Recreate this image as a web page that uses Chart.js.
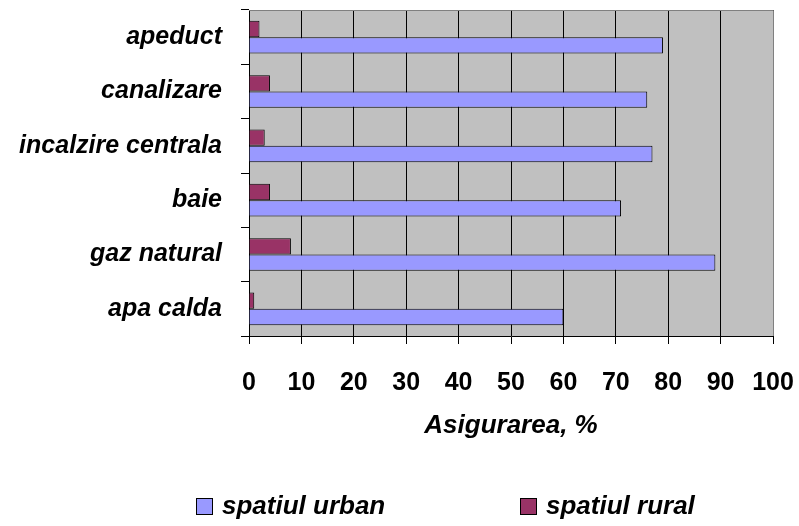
<!DOCTYPE html>
<html>
<head>
<meta charset="utf-8">
<script src="https://cdn.jsdelivr.net/npm/chart.js@4/dist/chart.umd.min.js"></script>
<style>
  body { margin: 0; background: #fff; }
  #wrap { position: relative; width: 799px; height: 526px; }
  #legend { position: absolute; left: 0; top: 490px; width: 799px; height: 32px;
    font: italic bold 26px "Liberation Sans", Arial, sans-serif; color: #000; }
  .item { position: absolute; top: 0; white-space: nowrap; }
  .box { display: inline-block; width: 17px; height: 17px; border: 1px solid #000;
    box-sizing: border-box; margin-right: 9px; vertical-align: -1px; }
</style>
</head>
<body>
<div id="wrap">
  <canvas id="chart" width="799" height="526"></canvas>
  <div id="legend"></div>
</div>
<script>
const categories = ["apeduct", "canalizare", "incalzire centrala", "baie", "gaz natural", "apa calda"];
const urban = [79, 76, 77, 71, 89, 60];
const rural = [2, 4, 3, 4, 8, 1];
const seriesNames = ["spatiul urban", "spatiul rural"];
const colors = ["#9999FF", "#993366"];
const xTicks = [0, 10, 20, 30, 40, 50, 60, 70, 80, 90, 100];

const family = '"Liberation Sans", Arial, sans-serif';

// gray plot background + top/right frame
const plotArea = {
  id: "plotArea",
  beforeDraw(chart) {
    const { ctx, chartArea: a } = chart;
    ctx.save();
    ctx.fillStyle = "#C0C0C0";
    ctx.fillRect(a.left, a.top, a.right - a.left, a.bottom - a.top);
    ctx.restore();
  },
  afterDraw(chart) {
    const { ctx, chartArea: a } = chart;
    ctx.save();
    ctx.strokeStyle = "#808080";
    ctx.lineWidth = 1;
    ctx.beginPath();
    ctx.moveTo(a.left, a.top + 0.5);
    ctx.lineTo(a.right + 0.5, a.top + 0.5);
    ctx.lineTo(a.right + 0.5, a.bottom);
    ctx.stroke();
    ctx.restore();
  }
};

new Chart(document.getElementById("chart"), {
  type: "bar",
  data: {
    labels: categories,
    datasets: [
      { label: seriesNames[1], data: rural, backgroundColor: colors[1], borderColor: "#000", borderWidth: 1,
        barPercentage: 1, categoryPercentage: 0.6 },
      { label: seriesNames[0], data: urban, backgroundColor: colors[0], borderColor: "#000", borderWidth: 1,
        barPercentage: 1, categoryPercentage: 0.6 }
    ]
  },
  options: {
    indexAxis: "y",
    responsive: false,
    animation: false,
    layout: { padding: { top: 10, right: 26, bottom: 81, left: 0 } },
    plugins: { legend: { display: false }, tooltip: { enabled: false } },
    scales: {
      x: {
        min: 0, max: 100,
        afterBuildTicks: s => { s.ticks = xTicks.map(v => ({ value: v })); },
        afterFit: s => { s.height = 109; s.paddingLeft = 0; s.paddingRight = 0; },
        ticks: { color: "#000", font: { family, size: 25, weight: "bold" }, padding: 24, maxRotation: 0 },
        grid: { color: "#000", tickColor: "#000", tickLength: 8, lineWidth: 1 },
        border: { color: "#000", width: 1 },
        title: { display: true, text: "Asigurarea, %", color: "#000",
          font: { family, size: 26, weight: "bold", style: "italic" }, padding: { top: 15, bottom: 4 } }
      },
      y: {
        afterFit: s => { s.width = 249; s.paddingTop = 0; s.paddingBottom = 0; },
        ticks: { color: "#000", font: { family, size: 25, weight: "bold", style: "italic" }, padding: 19 },
        grid: { drawOnChartArea: false, tickColor: "#000", tickLength: 8 },
        border: { color: "#000", width: 1 }
      }
    }
  },
  plugins: [plotArea]
});

// legend below the chart
const legend = document.getElementById("legend");
const legendLeft = [196, 520];
seriesNames.forEach((name, i) => {
  const el = document.createElement("div");
  el.className = "item";
  el.style.left = legendLeft[i] + "px";
  el.innerHTML = '<span class="box" style="background:' + colors[i] + '"></span>' + name;
  legend.appendChild(el);
});
</script>
</body>
</html>
